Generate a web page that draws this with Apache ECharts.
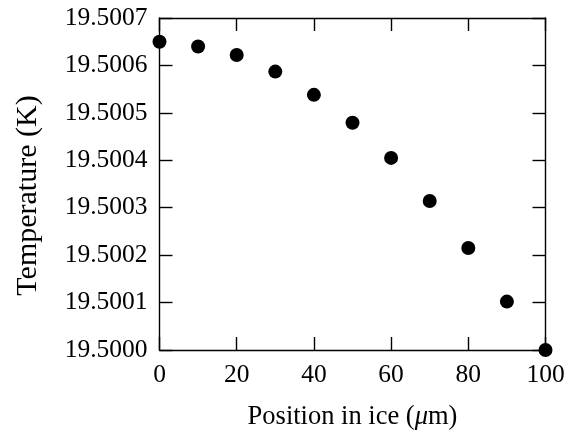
<!DOCTYPE html>
<html><head><meta charset="utf-8">
<script src="https://cdn.jsdelivr.net/npm/echarts@6/dist/echarts.min.js"></script>
<style>html,body{margin:0;padding:0;background:#fff}#c{width:574px;height:430px}</style>
</head><body><div id="c"></div>
<script>
var positions = [0, 10, 20, 30, 40, 50, 60, 70, 80, 90, 100];
var temperatures = [19.50065, 19.50064, 19.500622, 19.500587, 19.500538, 19.500479, 19.500405, 19.500314, 19.500215, 19.500102, 19.5];
var xTicks = [0, 20, 40, 60, 80, 100];
var yTickLabels = ['19.5000','19.5001','19.5002','19.5003','19.5004','19.5005','19.5006','19.5007'];

var font = 'Liberation Serif';
var chart = echarts.init(document.getElementById('c'), null, {renderer: 'canvas'});
var axisLine = {show: true, onZero: false, lineStyle: {color: '#000', width: 1.4}};
var tick = {show: true, inside: true, length: 13, lineStyle: {color: '#000', width: 1.4}};
var data = positions.map(function(p, i){ return [p, temperatures[i]]; });
chart.setOption({
  animation: false,
  backgroundColor: '#fff',
  grid: {left: 159.5, top: 18, right: 28.5, bottom: 80, containLabel: false, outerBoundsMode: 'none'},
  xAxis: [{
    type: 'value', min: 0, max: 100, interval: 20, position: 'bottom',
    axisLine: axisLine, axisTick: tick, splitLine: {show: false},
    axisLabel: {color: '#000', fontFamily: font, fontSize: 25.5, margin: 12,
      formatter: function(v){ return xTicks.indexOf(v) >= 0 ? String(v) : ''; }},
    name: 'Position in ice ({i|μ}m)', nameLocation: 'middle', nameGap: 54,
    nameTextStyle: {color: '#000', fontFamily: font, fontSize: 26.5,
      rich: {i: {fontStyle: 'italic', fontFamily: font, fontSize: 26.5, color: '#000'}}}
  }, {
    type: 'value', min: 0, max: 100, interval: 20, position: 'top',
    axisLine: axisLine, axisTick: tick, splitLine: {show: false}, axisLabel: {show: false}
  }],
  yAxis: [{
    type: 'value', min: 19.5, max: 19.5007, interval: 0.0001, position: 'left',
    axisLine: axisLine, axisTick: tick, splitLine: {show: false},
    axisLabel: {color: '#000', fontFamily: font, fontSize: 25.5, margin: 12, showMaxLabel: true, showMinLabel: true,
      formatter: function(v){ var i = Math.round((v - 19.5) / 0.0001); return yTickLabels[i] !== undefined ? yTickLabels[i] : ''; }},
    name: 'Temperature (K)', nameLocation: 'middle', nameGap: 116, nameRotate: 90,
    nameTextStyle: {color: '#000', fontFamily: font, fontSize: 30, padding: [0, 23, 0, 0]}
  }, {
    type: 'value', min: 19.5, max: 19.5007, interval: 0.0001, position: 'right',
    axisLine: axisLine, axisTick: tick, splitLine: {show: false}, axisLabel: {show: false}
  }],
  series: [{
    type: 'scatter', data: data, symbol: 'circle', symbolSize: 14, clip: false,
    itemStyle: {color: '#000', opacity: 1}
  }]
});
</script></body></html>
